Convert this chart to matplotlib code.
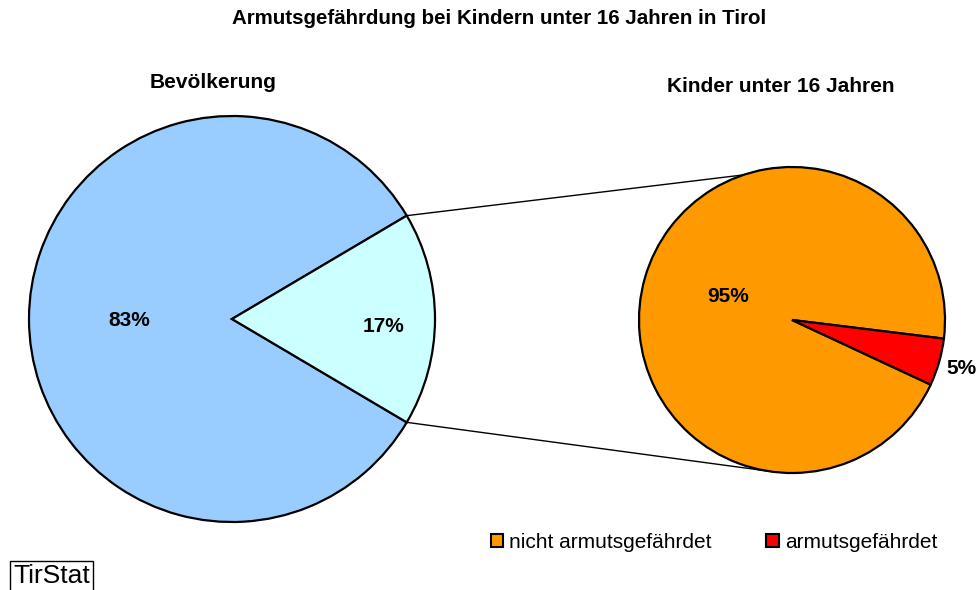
import matplotlib
matplotlib.use("Agg")
import matplotlib.pyplot as plt
from matplotlib.patches import Patch
import numpy as np

plt.rcParams['font.family'] = ['Liberation Sans', 'DejaVu Sans']

# data
bev_labels = ['nicht armutsgefährdet', 'armutsgefährdet']
bev_values = [83, 17]
kinder_values = [95, 5]
title = 'Armutsgefährdung bei Kindern unter 16 Jahren in Tirol'

bev_colors = ['#99CCFF', '#CCFFFF']
kinder_colors = ['#FF9900', '#FF0000']

W, H = 977, 590
fig = plt.figure(figsize=(W / 100, H / 100), dpi=100)
ax = fig.add_axes([0, 0, 1, 1])

wp = dict(edgecolor='black', linewidth=1.6)

# left pie, small slice centered on the right side
c1, r1 = (232, H - 319), 203
start1 = bev_values[1] / sum(bev_values) * 180
w1, _ = ax.pie(bev_values, colors=bev_colors, startangle=start1, center=c1,
               radius=r1, wedgeprops=wp, frame=True)

# right pie
c2, r2 = (792, H - 320), 153
w2, _ = ax.pie(kinder_values, colors=kinder_colors, startangle=-7, center=c2,
               radius=r2, wedgeprops=wp, frame=True)
ax.set_xlim(0, W)
ax.set_ylim(0, H)
ax.set_aspect('auto')
ax.axis('off')

# percent labels
def pct(v, tot):
    return '%d%%' % round(v / tot * 100)

lbl = dict(ha='center', va='center', fontsize=15, fontweight='bold')
ax.text(129, H - 320, pct(bev_values[0], sum(bev_values)), **lbl)
ax.text(383, H - 327, pct(bev_values[1], sum(bev_values)), **lbl)
ax.text(728, H - 297, pct(kinder_values[0], sum(kinder_values)), **lbl)
ax.text(961, H - 368, pct(kinder_values[1], sum(kinder_values)), **lbl)

# connector lines from small slice to the right pie
small = w1[1]
for ang1, ang2 in [(small.theta2, 108.5), (small.theta1, 260.5)]:
    p1 = (c1[0] + r1 * np.cos(np.radians(ang1)), c1[1] + r1 * np.sin(np.radians(ang1)))
    p2 = (c2[0] + r2 * np.cos(np.radians(ang2)), c2[1] + r2 * np.sin(np.radians(ang2)))
    ax.plot([p1[0], p2[0]], [p1[1], p2[1]], color='black', lw=1, zorder=0)

# titles
ax.text(499, H - 19, title, ha='center', va='center', fontsize=14.8, fontweight='bold')
ax.text(213, H - 82, 'Bevölkerung', ha='center', va='center', fontsize=15, fontweight='bold')
ax.text(781, H - 87, 'Kinder unter 16 Jahren', ha='center', va='center', fontsize=15,
        fontweight='bold')

# legend
handles = [Patch(facecolor=c, edgecolor='black', linewidth=1.5) for c in kinder_colors]
fig.legend(handles, bev_labels, loc='center', bbox_to_anchor=(714 / W, 1 - 542 / H),
           ncol=2, frameon=False, fontsize=15, handlelength=0.6, handleheight=0.6,
           handletextpad=0.3, columnspacing=2.6)

# source box
ax.text(13, H - 576, 'TirStat', ha='left', va='center', fontsize=19,
        bbox=dict(boxstyle='square,pad=0.12', facecolor='white', edgecolor='black', lw=1))

fig.savefig('out.png', dpi=100)
